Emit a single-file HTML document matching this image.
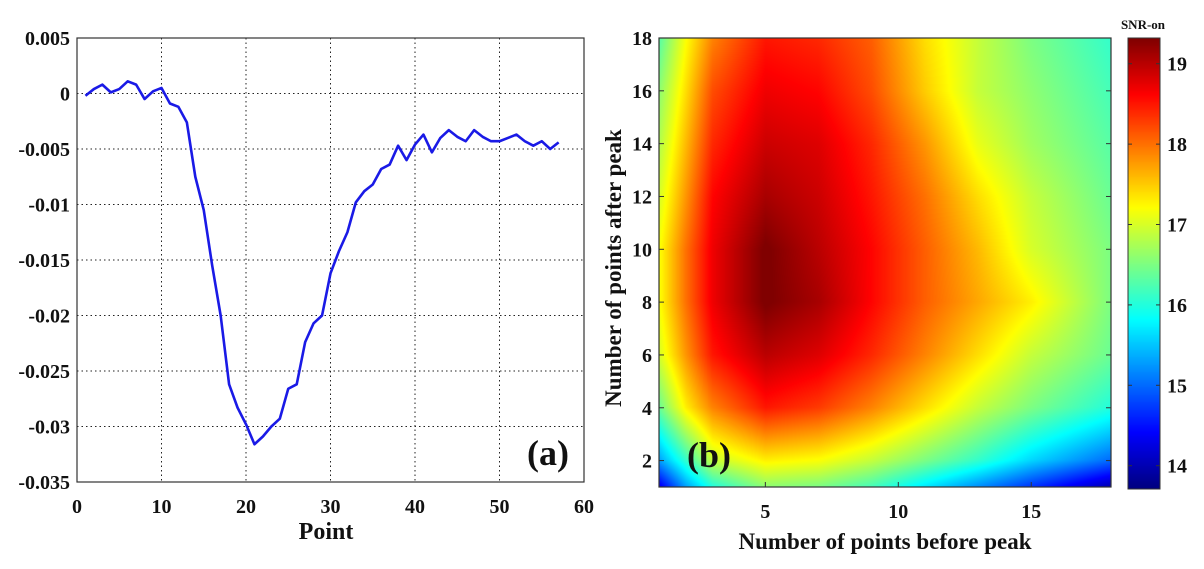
<!DOCTYPE html>
<html><head><meta charset="utf-8"><style>
body{margin:0;background:#fff;width:1204px;height:564px;overflow:hidden}
svg text{font-family:"Liberation Serif",serif;font-weight:bold;fill:#111}
</style></head><body>
<svg id="s" width="1204" height="564">
<foreignObject x="659" y="38" width="452" height="449"><canvas id="hm" width="452" height="449" xmlns="http://www.w3.org/1999/xhtml"></canvas></foreignObject>
<foreignObject x="1128" y="38" width="32" height="451"><canvas id="cb" width="32" height="451" xmlns="http://www.w3.org/1999/xhtml"></canvas></foreignObject>
<g id="g"></g>
</svg>
<script>
const lineX=[];for(let i=1;i<=57;i++)lineX.push(i);
const lineY=[-0.0002,0.0004,0.0008,0.0001,0.0004,0.0011,0.0008,-0.0005,0.0002,0.0005,-0.0009,-0.0012,-0.0026,-0.0075,-0.0105,-0.0155,-0.0200,-0.0262,-0.0283,-0.0298,-0.0316,-0.0309,-0.0300,-0.0293,-0.0266,-0.0262,-0.0224,-0.0207,-0.0200,-0.0162,-0.0142,-0.0125,-0.0098,-0.0088,-0.0082,-0.0068,-0.0064,-0.0047,-0.0060,-0.0046,-0.0037,-0.0053,-0.0040,-0.0033,-0.0039,-0.0043,-0.0033,-0.0039,-0.0043,-0.0043,-0.0040,-0.0037,-0.0043,-0.0047,-0.0043,-0.0050,-0.0044];
const leftXTicks=[0,10,20,30,40,50,60];
const leftYTicks=[0.005,0,-0.005,-0.01,-0.015,-0.02,-0.025,-0.03,-0.035];
const hmX=[1,2,3,5,7,9,11,13,15,18];
const hmY=[18,16,14,12,10,8,6,4,2,1];
const hmZ=[
[16.3,17.2,17.9,18.5,18.4,18.1,17.4,16.9,16.5,16.1],
[16.6,17.4,18.2,18.7,18.6,18.2,17.5,16.9,16.6,16.2],
[16.8,17.6,18.4,18.9,18.8,18.4,17.8,17.1,16.7,16.3],
[17.0,17.8,18.6,19.1,18.9,18.5,18.0,17.4,16.9,16.4],
[17.2,18.0,18.7,19.35,19.0,18.6,18.1,17.6,17.0,16.5],
[17.2,18.0,18.7,19.35,19.1,18.6,18.1,17.7,17.3,16.5],
[17.0,17.8,18.5,19.0,18.8,18.4,17.9,17.4,16.9,16.4],
[16.4,17.3,17.9,18.5,18.3,17.9,17.4,16.9,16.5,16.0],
[15.3,16.1,16.9,17.3,17.2,16.9,16.5,16.1,15.6,15.0],
[14.3,15.3,16.0,16.6,16.5,16.2,15.7,15.2,14.7,14.0]];
const hmXTicks=[5,10,15];
const hmYTicks=[2,4,6,8,10,12,14,16,18];
const cbTicks=[14,15,16,17,18,19];

const NS="http://www.w3.org/2000/svg",G=document.getElementById('g');
function el(t,a,txt){const e=document.createElementNS(NS,t);for(const k in a)e.setAttribute(k,a[k]);if(txt!==undefined)e.textContent=txt;G.appendChild(e);return e;}
const L={x0:77,x1:584,y0:38,y1:482};
const lx=v=>L.x0+(v-0)/60*(L.x1-L.x0), ly=v=>L.y0+(0.005-v)/0.04*(L.y1-L.y0);
leftXTicks.forEach(t=>{const x=lx(t);
 if(t>0&&t<60){const e=el('line',{x1:x,x2:x,y1:L.y0,y2:L.y1,stroke:'#222','stroke-dasharray':'1.5,3','stroke-width':1});}
 const tx=el('text',{x:x,y:513,'text-anchor':'middle','font-size':20},String(t));});
leftYTicks.forEach(t=>{const y=ly(t);
 if(t<0.005&&t>-0.035){const e=el('line',{x1:L.x0,x2:L.x1,y1:y,y2:y,stroke:'#222','stroke-dasharray':'1.5,3','stroke-width':1});}
 const tx=el('text',{x:70,y:y+7,'text-anchor':'end','font-size':20},String(t));});
let fr=el('rect',{x:L.x0,y:L.y0,width:L.x1-L.x0,height:L.y1-L.y0,fill:'none',stroke:'#333','stroke-width':1.2});

let pl=el('polyline',{points:lineX.map((x,i)=>lx(x)+','+ly(lineY[i])).join(' '),fill:'none',stroke:'#1a1ae6','stroke-width':2.6,'stroke-linejoin':'round'});

let t1=el('text',{x:326,y:539,'text-anchor':'middle','font-size':24},'Point');
let ta=el('text',{x:527,y:465,'font-size':36},'(a)');
const R={x0:659,x1:1111,y0:38,y1:487};
const hx=v=>R.x0+(v-1)/17*(R.x1-R.x0), hy=v=>R.y0+(18-v)/17*(R.y1-R.y0);
function jet(t){t=Math.max(0,Math.min(1,t));const f=c=>Math.max(0,Math.min(1,1.5-Math.abs(4*t-c)));return [f(3)*255,f(2)*255,f(1)*255];}
function seg(arr,v){let i=0;if(arr[0]>arr[1]){while(i<arr.length-2&&v<arr[i+1])i++;}else{while(i<arr.length-2&&v>arr[i+1])i++;}return [i,(v-arr[i])/(arr[i+1]-arr[i])];}
const zmin=13.71,zmax=19.32;
const c=document.getElementById('hm').getContext('2d'),W=452,H=449,img=c.createImageData(W,H);
for(let py=0;py<H;py++){const yv=18-py/(H-1)*17;const[j,fy]=seg(hmY,yv);
 for(let px=0;px<W;px++){const xv=1+px/(W-1)*17;const[i,fx]=seg(hmX,xv);
  const z=(hmZ[j][i]*(1-fx)+hmZ[j][i+1]*fx)*(1-fy)+(hmZ[j+1][i]*(1-fx)+hmZ[j+1][i+1]*fx)*fy;
  const col=jet((z-zmin)/(zmax-zmin)),k=(py*W+px)*4;img.data[k]=col[0];img.data[k+1]=col[1];img.data[k+2]=col[2];img.data[k+3]=255;}}
c.putImageData(img,0,0);
const cc=document.getElementById('cb').getContext('2d');
for(let py=0;py<451;py++){const col=jet(1-py/450);cc.fillStyle='rgb('+col.map(Math.round).join(',')+')';cc.fillRect(0,py,32,1);}
fr=el('rect',{x:R.x0,y:R.y0,width:R.x1-R.x0,height:R.y1-R.y0,fill:'none',stroke:'#333','stroke-width':1.2});

hmXTicks.forEach(t=>{const x=hx(t);el('line',{x1:x,x2:x,y1:R.y1,y2:R.y1-5,stroke:'#333'});
 const tx=el('text',{x:x,y:518,'text-anchor':'middle','font-size':20},String(t));});
hmYTicks.forEach(t=>{const y=hy(t);el('line',{x1:R.x0,x2:R.x0+5,y1:y,y2:y,stroke:'#333'});el('line',{x1:R.x1,x2:R.x1-5,y1:y,y2:y,stroke:'#333'});
 const tx=el('text',{x:652,y:y+7,'text-anchor':'end','font-size':20},String(t));});
let t2=el('text',{x:885,y:549,'text-anchor':'middle','font-size':23},'Number of points before peak');
let t3=el('text',{x:0,y:0,'text-anchor':'middle','font-size':23,transform:'translate(621,268) rotate(-90)'},'Number of points after peak');
let tb=el('text',{x:687,y:467,'font-size':36},'(b)');
const cy=v=>38+(zmax-v)/(zmax-zmin)*451;
fr=el('rect',{x:1128,y:38,width:32,height:451,fill:'none',stroke:'#333','stroke-width':1});

cbTicks.forEach(t=>{const y=cy(t);el('line',{x1:1128,x2:1132,y1:y,y2:y,stroke:'#333'});el('line',{x1:1160,x2:1156,y1:y,y2:y,stroke:'#333'});
 const tx=el('text',{x:1167,y:y+7,'font-size':20},String(t));});
let t4=el('text',{x:1143,y:29,'text-anchor':'middle','font-size':13},'SNR-on');
</script>
</body></html>
